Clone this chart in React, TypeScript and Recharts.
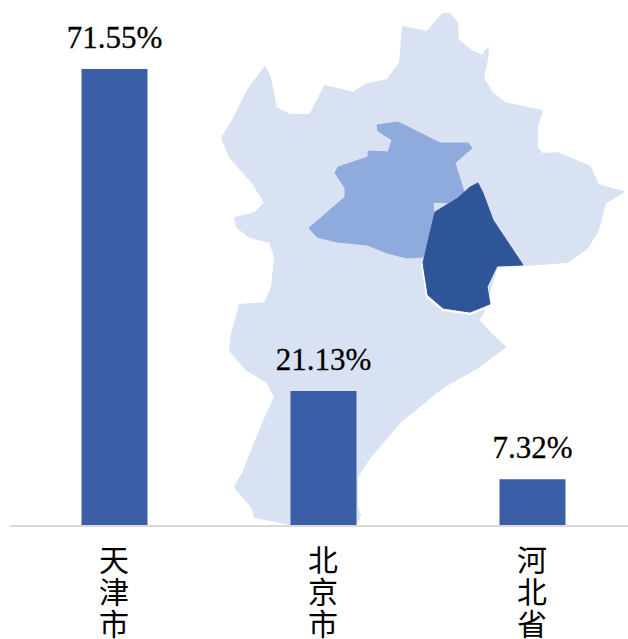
import { BarChart, Bar, XAxis, YAxis, LabelList } from "recharts";

const regions = ["天津市", "北京市", "河北省"];
const shares = [71.55, 21.13, 7.32];

const data = regions.map((name, i) => ({ name, share: shares[i] }));

// Backdrop map outlines (page pixels)
const hebeiOutline =
  "443,14 450,14 457,23 458,40 473,52 482,56 488,48 487,60 483,78 492,93 505,103 542,111 537,127 537,147 542,154 557,153 590,167 598,185 623,192 605,203 598,230 587,248 567,262 527,265 497,266 483,313 478,320 487,330 505,347 477,368 443,387 400,422 370,457 357,477 357,507 360,515 356,525 290,524 255,517 252,507 235,487 243,473 263,423 275,397 267,382 247,370 230,350 232,333 240,305 265,303 272,287 275,257 270,242 250,237 237,227 235,218 255,213 265,203 253,183 230,157 222,138 233,120 248,90 265,67 270,78 276,108 290,115 310,115 325,86 353,93 365,85 387,80 400,63 403,27 427,32";
const beijingOutline =
  "377,125 398,122 440,143 468,143 472,148 455,163 465,195 448,203 433,202 434,213 430,237 423,257 407,258 387,253 367,245 337,242 317,237 309,228 345,197 345,188 335,173 338,167 368,157 368,151 388,152 392,140 378,131";
const tianjinOutline =
  "478,183 483,193 493,220 523,265 497,266 487,287 490,304 470,312 443,308 428,295 423,263 430,233 435,212 458,198 470,187";
const tianjinEdge = "490,306 470,314 443,310 427,297 422,263";

function StackedTick({ x, y, payload }: any) {
  const chars = String(payload.value).split("");
  return (
    <text
      x={x}
      y={y}
      textAnchor="middle"
      fontFamily="'Noto Sans CJK SC'"
      fontSize={30}
      fill="#000"
    >
      {chars.map((c, i) => (
        <tspan key={i} x={x} dy={i === 0 ? 0 : 32}>
          {c}
        </tspan>
      ))}
    </text>
  );
}

export default function App() {
  return (
    <div
      style={{
        position: "absolute",
        left: 0,
        top: 0,
        width: 628,
        height: 639,
        overflow: "hidden",
        background: "#fff",
      }}
    >
      <svg width={628} height={639} style={{ position: "absolute", left: 0, top: 0 }}>
        <defs>
          <filter id="soft">
            <feGaussianBlur stdDeviation={0.6} />
          </filter>
        </defs>
        <g filter="url(#soft)" strokeLinejoin="round">
          <polygon points={hebeiOutline} fill="#d9e2f3" stroke="#d9e2f3" strokeWidth={2} />
          <polygon points={beijingOutline} fill="#8faadc" stroke="#8faadc" strokeWidth={1} />
          <polyline points={tianjinEdge} fill="none" stroke="#fff" strokeWidth={2} />
          <polygon points={tianjinOutline} fill="#2f5597" stroke="#2f5597" strokeWidth={1} />
        </g>
      </svg>
      <div style={{ position: "absolute", left: 0, top: 0 }}>
        <BarChart
          width={640}
          height={639}
          data={data}
          margin={{ top: 69, right: 3.5, bottom: 0, left: 9.5 }}
        >
          <XAxis
            dataKey="name"
            height={113}
            interval={0}
            tickLine={false}
            axisLine={{ stroke: "#d9d9d9", strokeWidth: 2 }}
            tick={<StackedTick />}
            tickMargin={39}
          />
          <YAxis hide domain={[0, 71.55]} />
          <Bar dataKey="share" fill="#3b5fa6" barSize={66} isAnimationActive={false}>
            <LabelList
              dataKey="share"
              position="top"
              offset={21}
              formatter={(v: any) => `${v.toFixed(2)}%`}
              style={{
                fontFamily: "'Liberation Serif'",
                fontSize: 31,
                fill: "#000",
                stroke: "#000",
                strokeWidth: 0.3,
              }}
            />
          </Bar>
        </BarChart>
      </div>
    </div>
  );
}
